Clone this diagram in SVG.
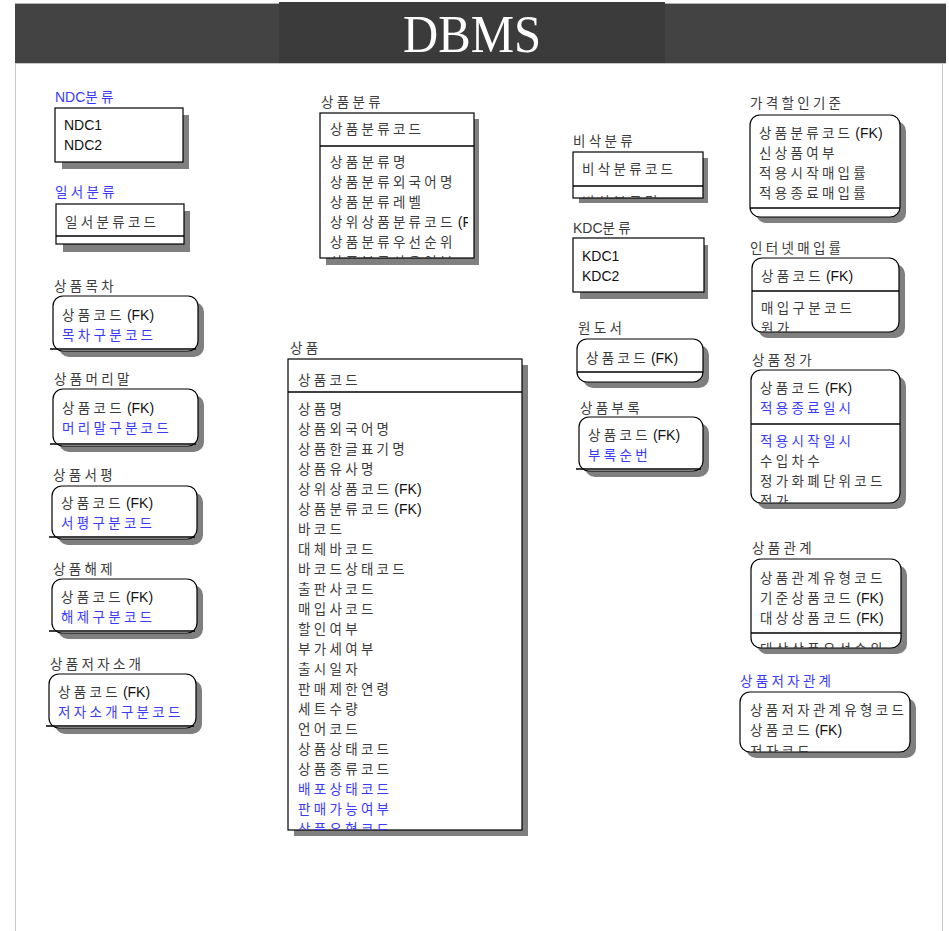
<svg xmlns="http://www.w3.org/2000/svg" width="949" height="931" viewBox="0 0 949 931">
<style>
.sh{fill:#7f7f7f}
.bx{fill:#fff;stroke:#000;stroke-width:1.2}
.dv{stroke:#000;stroke-width:1.5}
.k{font-family:"Noto Sans CJK KR","Noto Sans",sans-serif;font-size:13.5px;letter-spacing:3.3px;fill:#3c3c3c}
.bl{fill:#3a3aff}
.fk{font-family:"Liberation Sans",Arial,sans-serif;font-size:14px;letter-spacing:0;fill:#111}
.la{font-family:"Liberation Sans",Arial,sans-serif;font-size:14px;letter-spacing:0}
.pg{stroke:#c8c8c8;stroke-width:1;fill:none}
</style>
<defs>
<clipPath id="c1"><rect x="320" y="113" width="148" height="145"/></clipPath>
<clipPath id="c2"><rect x="573" y="152" width="130" height="46"/></clipPath>
<clipPath id="c3"><rect x="752" y="258" width="147" height="74" rx="10"/></clipPath>
<clipPath id="c4"><rect x="288" y="359" width="234" height="471"/></clipPath>
<clipPath id="c5"><rect x="751" y="370" width="149" height="133" rx="10"/></clipPath>
<clipPath id="c6"><rect x="751" y="559" width="150" height="89" rx="10"/></clipPath>
<clipPath id="c7"><rect x="740" y="692" width="170" height="60" rx="10"/></clipPath>
</defs>
<rect x="0" y="0" width="949" height="931" fill="#fff"/>
<g id="header">
<rect x="15" y="3" width="931" height="60" fill="#434343"/>
<rect x="279" y="2" width="386" height="61" fill="#3b3b3b"/>
<line x1="15" y1="3.5" x2="279" y2="3.5" stroke="#b0b0b0"/>
<line x1="665" y1="3.5" x2="946" y2="3.5" stroke="#b0b0b0"/>
<line class="pg" x1="15" y1="63.5" x2="946" y2="63.5"/>
<line class="pg" x1="15.5" y1="63" x2="15.5" y2="931"/>
<line class="pg" x1="942.5" y1="63" x2="942.5" y2="931"/>
<text x="472" y="52" text-anchor="middle" font-family="Liberation Serif, serif" font-size="53" fill="#fff" textLength="138" lengthAdjust="spacingAndGlyphs">DBMS</text>
</g>
<g id="connectors"/>
<g id="ndc">
<text class="k bl" x="55" y="102"><tspan class="la">NDC</tspan>분류</text>
<rect class="sh" x="62" y="115" width="127" height="54"/>
<rect class="bx" x="55" y="108" width="128" height="54"/>
<text class="fk" x="64" y="130">NDC1</text>
<text class="fk" x="64" y="150">NDC2</text>
</g>
<g id="ilseo">
<text class="k bl" x="55" y="197">일서분류</text>
<rect class="sh" x="63" y="211" width="127" height="41"/>
<rect class="bx" x="56" y="204" width="128" height="40"/>
<line class="dv" x1="56" y1="236" x2="184" y2="236"/>
<text class="k" x="65" y="227">일서분류코드</text>
</g>
<g id="sangpum-bunryu">
<text class="k" x="321" y="107">상품분류</text>
<rect class="sh" x="326" y="119" width="153" height="146"/>
<rect class="bx" x="320" y="113" width="154" height="145"/>
<line class="dv" x1="320" y1="146" x2="474" y2="146"/>
<g clip-path="url(#c1)">
<text class="k" x="330" y="134">상품분류코드</text>
<text class="k" x="330" y="167">상품분류명</text>
<text class="k" x="330" y="187">상품분류외국어명</text>
<text class="k" x="330" y="207">상품분류레벨</text>
<text class="k" x="330" y="227">상위상품분류코드<tspan class="fk" dx="2">(FK)</tspan></text>
<text class="k" x="330" y="247">상품분류우선순위</text>
<text class="k" x="330" y="267">상품분류사용여부</text>
</g>
</g>
<g id="bisak-bunryu">
<text class="k" x="573" y="146">비삭분류</text>
<rect class="sh" x="579" y="158" width="129" height="45"/>
<rect class="bx" x="573" y="152" width="130" height="46"/>
<line class="dv" x1="573" y1="186" x2="703" y2="186"/>
<g clip-path="url(#c2)">
<text class="k" x="582" y="174">비삭분류코드</text>
<text class="k" x="582" y="207">비삭분류명</text>
</g>
</g>
<g id="kdc">
<text class="k" x="573" y="233"><tspan class="la">KDC</tspan>분류</text>
<rect class="sh" x="580" y="245" width="128" height="54"/>
<rect class="bx" x="573" y="238" width="131" height="54"/>
<text class="fk" x="582" y="261">KDC1</text>
<text class="fk" x="582" y="281">KDC2</text>
</g>
<g id="gagyeok-halin">
<text class="k" x="750" y="108">가격할인기준</text>
<rect class="sh" x="756" y="121" width="150" height="102" rx="10"/>
<rect class="bx" x="750" y="115" width="150" height="102" rx="10"/>
<line class="dv" x1="750" y1="208" x2="900" y2="208"/>
<text class="k" x="759" y="138">상품분류코드<tspan class="fk" dx="2">(FK)</tspan></text>
<text class="k" x="759" y="158">신상품여부</text>
<text class="k" x="759" y="178">적용시작매입률</text>
<text class="k" x="759" y="198">적용종료매입률</text>
</g>
<g id="internet-maeip">
<text class="k" x="750" y="253">인터넷매입률</text>
<rect class="sh" x="758" y="264" width="147" height="74" rx="10"/>
<rect class="bx" x="752" y="258" width="147" height="74" rx="10"/>
<line class="dv" x1="752" y1="291" x2="899" y2="291"/>
<g clip-path="url(#c3)">
<text class="k" x="761" y="281">상품코드<tspan class="fk" dx="2">(FK)</tspan></text>
<text class="k" x="761" y="313">매입구분코드</text>
<text class="k" x="761" y="333">원가</text>
</g>
</g>
<g id="mokcha">
<text class="k" x="54" y="291">상품목차</text>
<rect class="sh" x="59" y="302" width="145" height="55" rx="10"/>
<rect class="bx" x="53" y="296" width="145" height="55" rx="10"/>
<line class="dv" x1="50" y1="349" x2="196" y2="349"/>
<text class="k" x="62" y="320">상품코드<tspan class="fk" dx="2">(FK)</tspan></text>
<text class="k bl" x="62" y="340">목차구분코드</text>
</g>
<g id="meorimal">
<text class="k" x="54" y="384">상품머리말</text>
<rect class="sh" x="59" y="395" width="145" height="57" rx="10"/>
<rect class="bx" x="53" y="389" width="145" height="57" rx="10"/>
<line class="dv" x1="50" y1="444" x2="196" y2="444"/>
<text class="k" x="62" y="413">상품코드<tspan class="fk" dx="2">(FK)</tspan></text>
<text class="k bl" x="62" y="433">머리말구분코드</text>
</g>
<g id="seopyeong">
<text class="k" x="53" y="480">상품서평</text>
<rect class="sh" x="58" y="492" width="145" height="53" rx="10"/>
<rect class="bx" x="52" y="486" width="145" height="53" rx="10"/>
<line class="dv" x1="49" y1="537" x2="195" y2="537"/>
<text class="k" x="61" y="508">상품코드<tspan class="fk" dx="2">(FK)</tspan></text>
<text class="k bl" x="61" y="528">서평구분코드</text>
</g>
<g id="haeje">
<text class="k" x="53" y="574">상품해제</text>
<rect class="sh" x="58" y="585" width="145" height="54" rx="10"/>
<rect class="bx" x="52" y="579" width="145" height="54" rx="10"/>
<line class="dv" x1="49" y1="631" x2="195" y2="631"/>
<text class="k" x="61" y="602">상품코드<tspan class="fk" dx="2">(FK)</tspan></text>
<text class="k bl" x="61" y="622">해제구분코드</text>
</g>
<g id="jeoja-sogae">
<text class="k" x="50" y="669">상품저자소개</text>
<rect class="sh" x="55" y="680" width="147" height="54" rx="10"/>
<rect class="bx" x="49" y="674" width="147" height="54" rx="10"/>
<line class="dv" x1="46" y1="726" x2="194" y2="726"/>
<text class="k" x="58" y="697">상품코드<tspan class="fk" dx="2">(FK)</tspan></text>
<text class="k bl" x="58" y="717">저자소개구분코드</text>
</g>
<g id="sangpum">
<text class="k" x="290" y="353">상품</text>
<rect class="sh" x="294" y="365" width="234" height="471"/>
<rect class="bx" x="288" y="359" width="234" height="471"/>
<line class="dv" x1="288" y1="392" x2="522" y2="392"/>
<g clip-path="url(#c4)">
<text class="k" x="298" y="385">상품코드</text>
<text class="k" x="298" y="414">상품명</text>
<text class="k" x="298" y="434">상품외국어명</text>
<text class="k" x="298" y="454">상품한글표기명</text>
<text class="k" x="298" y="474">상품유사명</text>
<text class="k" x="298" y="494">상위상품코드<tspan class="fk" dx="2">(FK)</tspan></text>
<text class="k" x="298" y="514">상품분류코드<tspan class="fk" dx="2">(FK)</tspan></text>
<text class="k" x="298" y="534">바코드</text>
<text class="k" x="298" y="554">대체바코드</text>
<text class="k" x="298" y="574">바코드상태코드</text>
<text class="k" x="298" y="594">출판사코드</text>
<text class="k" x="298" y="614">매입사코드</text>
<text class="k" x="298" y="634">할인여부</text>
<text class="k" x="298" y="654">부가세여부</text>
<text class="k" x="298" y="674">출시일자</text>
<text class="k" x="298" y="694">판매제한연령</text>
<text class="k" x="298" y="714">세트수량</text>
<text class="k" x="298" y="734">언어코드</text>
<text class="k" x="298" y="754">상품상태코드</text>
<text class="k" x="298" y="774">상품종류코드</text>
<text class="k bl" x="298" y="794">배포상태코드</text>
<text class="k bl" x="298" y="814">판매가능여부</text>
<text class="k bl" x="298" y="834">상품유형코드</text>
</g>
</g>
<g id="wondoseo">
<text class="k" x="578" y="333">원도서</text>
<rect class="sh" x="583" y="345" width="126" height="43" rx="10"/>
<rect class="bx" x="577" y="339" width="126" height="43" rx="10"/>
<line class="dv" x1="577" y1="372" x2="703" y2="372"/>
<text class="k" x="586" y="363">상품코드<tspan class="fk" dx="2">(FK)</tspan></text>
</g>
<g id="burok">
<text class="k" x="580" y="413">상품부록</text>
<rect class="sh" x="585" y="423" width="124" height="54" rx="10"/>
<rect class="bx" x="579" y="417" width="124" height="54" rx="10"/>
<line class="dv" x1="576" y1="469" x2="701" y2="469"/>
<text class="k" x="588" y="440">상품코드<tspan class="fk" dx="2">(FK)</tspan></text>
<text class="k bl" x="588" y="460">부록순번</text>
</g>
<g id="jeongga">
<text class="k" x="752" y="365">상품정가</text>
<rect class="sh" x="757" y="376" width="149" height="133" rx="10"/>
<rect class="bx" x="751" y="370" width="149" height="133" rx="10"/>
<line class="dv" x1="751" y1="424" x2="900" y2="424"/>
<g clip-path="url(#c5)">
<text class="k" x="760" y="393">상품코드<tspan class="fk" dx="2">(FK)</tspan></text>
<text class="k bl" x="760" y="413">적용종료일시</text>
<text class="k bl" x="760" y="446">적용시작일시</text>
<text class="k" x="760" y="466">수입차수</text>
<text class="k" x="760" y="486">정가화폐단위코드</text>
<text class="k" x="760" y="506">정가</text>
</g>
</g>
<g id="gwangye">
<text class="k" x="752" y="553">상품관계</text>
<rect class="sh" x="757" y="565" width="150" height="89" rx="10"/>
<rect class="bx" x="751" y="559" width="150" height="89" rx="10"/>
<line class="dv" x1="751" y1="633" x2="901" y2="633"/>
<g clip-path="url(#c6)">
<text class="k" x="760" y="583">상품관계유형코드</text>
<text class="k" x="760" y="603">기준상품코드<tspan class="fk" dx="2">(FK)</tspan></text>
<text class="k" x="760" y="623">대상상품코드<tspan class="fk" dx="2">(FK)</tspan></text>
<text class="k" x="760" y="654">대상상품우선순위</text>
</g>
</g>
<g id="jeoja-gwangye">
<text class="k bl" x="740" y="686">상품저자관계</text>
<rect class="sh" x="746" y="698" width="170" height="60" rx="10"/>
<rect class="bx" x="740" y="692" width="170" height="60" rx="10"/>
<g clip-path="url(#c7)">
<text class="k" x="750" y="715">상품저자관계유형코드</text>
<text class="k" x="750" y="735">상품코드<tspan class="fk" dx="2">(FK)</tspan></text>
<text class="k" x="750" y="756">저자코드</text>
</g>
</g>
</svg>
